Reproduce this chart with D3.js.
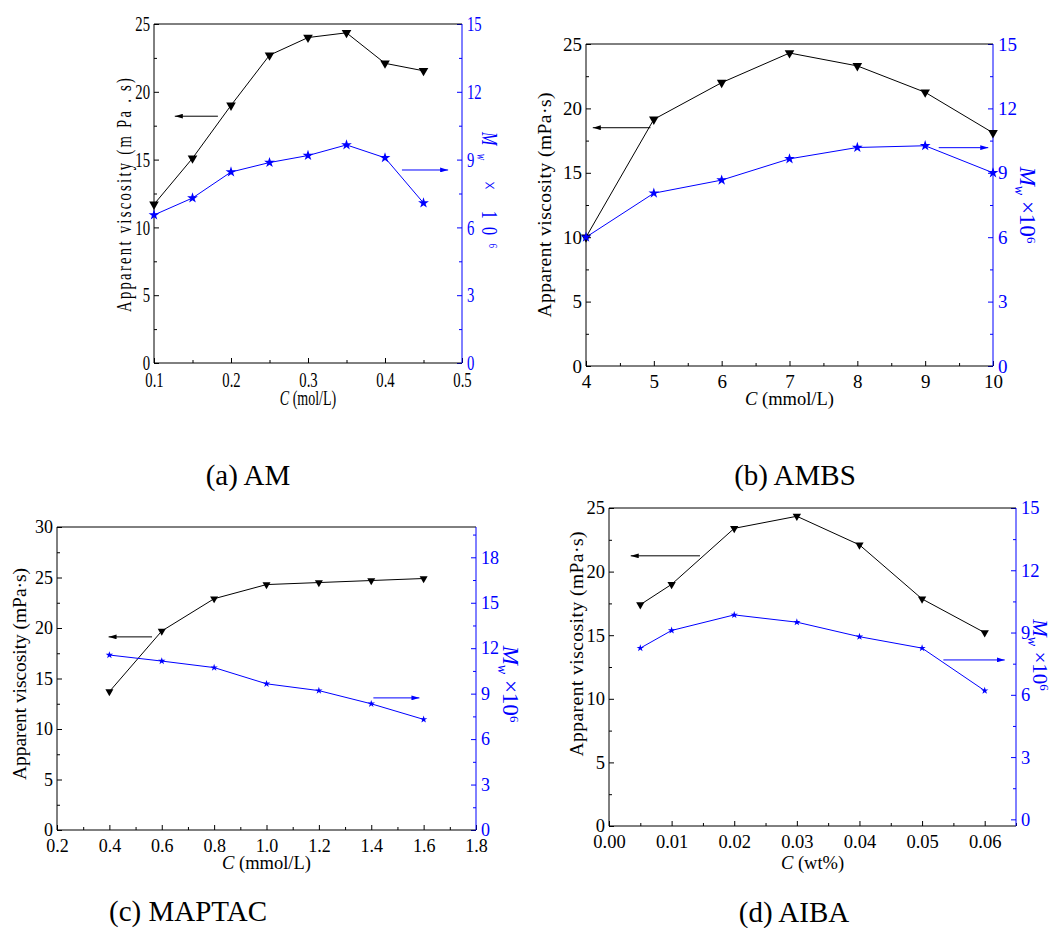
<!DOCTYPE html>
<html>
<head>
<meta charset="utf-8">
<script src="https://d3js.org/d3.v7.min.js"></script>
<style>
  body { margin: 0; background: #fff; }
</style>
</head>
<body>
<svg id="chart" width="1053" height="928" style="font-family:'Liberation Serif'"></svg>
<script>
// ---- data ----
const amC = [0.10, 0.15, 0.20, 0.25, 0.30, 0.35, 0.40, 0.45];
const amViscosity = [11.7, 15.1, 19.0, 22.7, 24.0, 24.35, 22.1, 21.55];
const amMw = [6.55, 7.3, 8.45, 8.87, 9.18, 9.65, 9.08, 7.08];

const ambsC = [4, 5, 6, 7, 8, 9, 10];
const ambsViscosity = [10.0, 19.15, 22.0, 24.3, 23.3, 21.25, 18.1];
const ambsMw = [6.0, 8.05, 8.66, 9.65, 10.18, 10.26, 9.0];

const maptacC = [0.4, 0.6, 0.8, 1.0, 1.2, 1.4, 1.6];
const maptacViscosity = [13.7, 19.7, 22.9, 24.3, 24.5, 24.7, 24.9];
const maptacMw = [11.55, 11.15, 10.72, 9.65, 9.2, 8.33, 7.3];

const aibaC = [0.005, 0.01, 0.02, 0.03, 0.04, 0.05, 0.06];
const aibaViscosity = [17.4, 19.0, 23.4, 24.35, 22.1, 17.85, 15.2];
const aibaMw = [8.25, 9.1, 9.85, 9.5, 8.8, 8.25, 6.2];

// tick labels
const amXTicks = [0.1, 0.2, 0.3, 0.4, 0.5];
const ambsXTicks = [4, 5, 6, 7, 8, 9, 10];
const maptacXTicks = [0.2, 0.4, 0.6, 0.8, 1.0, 1.2, 1.4, 1.6, 1.8];
const aibaXTicks = [0, 0.01, 0.02, 0.03, 0.04, 0.05, 0.06];
const visc25Ticks = [0, 5, 10, 15, 20, 25];
const visc30Ticks = [0, 5, 10, 15, 20, 25, 30];
const mw15Ticks = [0, 3, 6, 9, 12, 15];
const mw18Ticks = [0, 3, 6, 9, 12, 15, 18];

const captions = ["(a) AM", "(b) AMBS", "(c) MAPTAC", "(d) AIBA"];
const xUnits = ["(mol/L)", "(mmol/L)", "(mmol/L)", "(wt%)"];

// ---- layout ----
const panels = [
  { c: amC, v: amViscosity, m: amMw, cap: captions[0], unit: xUnits[0],
    box: [154, 24, 462, 363], xDom: [0.1, 0.5], xTicks: amXTicks, xStep: 0.1, xFmt: ".1f",
    vDom: [0, 25], vTicks: visc25Ticks, mDom: [0, 15], mTicks: mw15Ticks,
    font: 21, sx: 0.7, yLab: "Apparent viscosity (m Pa . s)", yLabLen: 234,
    yLabX: 131, yLabY: 195, mLabX: 482, mLabY: 190, mLabLen: 116, mFont: 23,
    xLabY: 405, capX: 248, capY: 485,
    tri: 40, star: 36, bArrow: [0.183, 0.127, 18.2], uArrow: [0.422, 0.482, 8.54] },
  { c: ambsC, v: ambsViscosity, m: ambsMw, cap: captions[1], unit: xUnits[1],
    box: [586, 44, 993, 366], xDom: [4, 10], xTicks: ambsXTicks, xStep: 1, xFmt: "d",
    vDom: [0, 25], vTicks: visc25Ticks, mDom: [0, 15], mTicks: mw15Ticks,
    font: 19, sx: 1, yLab: "Apparent viscosity (mPa\u00b7s)", yLabLen: 225,
    yLabX: 551, yLabY: 205, mLabX: 1020, mLabY: 205, mLabLen: 0, mFont: 23,
    xLabY: 405, capX: 795, capY: 485,
    tri: 40, star: 36, bArrow: [4.95, 4.1, 18.5], uArrow: [9.2, 9.93, 10.17] },
  { c: maptacC, v: maptacViscosity, m: maptacMw, cap: captions[2], unit: xUnits[2],
    box: [57, 527, 476, 830], xDom: [0.2, 1.8], xTicks: maptacXTicks, xStep: 0.2, xFmt: ".1f",
    vDom: [0, 30], vTicks: visc30Ticks, mDom: [0, 20], mTicks: mw18Ticks,
    font: 18, sx: 1, yLab: "Apparent viscosity (mPa\u00b7s)", yLabLen: 212,
    yLabX: 26, yLabY: 674, mLabX: 503, mLabY: 684, mLabLen: 0, mFont: 23,
    xLabY: 869, capX: 188, capY: 921,
    tri: 28, star: 17, bArrow: [0.563, 0.397, 19.12], uArrow: [1.408, 1.584, 8.72] },
  { c: aibaC, v: aibaViscosity, m: aibaMw, cap: captions[3], unit: xUnits[3],
    box: [609, 508, 1016, 826], xDom: [0, 0.065], xTicks: aibaXTicks, xStep: 0.01, xFmt: ".2f",
    vDom: [0, 25], vTicks: visc25Ticks, mDom: [-0.32, 15], mTicks: mw15Ticks,
    font: 18.5, sx: 1, yLab: "Apparent viscosity (mPa\u00b7s)", yLabLen: 225,
    yLabX: 583, yLabY: 644, mLabX: 1033, mLabY: 655, mLabLen: 0, mFont: 21,
    xLabY: 869, capX: 794, capY: 922,
    tri: 30, star: 17, bArrow: [0.01453, 0.00347, 21.24], uArrow: [0.0534, 0.0632, 7.68] }
];

const BLUE = "#0000ff";
const FONT = "'Liberation Serif'";
const svg = d3.select("#chart");

const defs = svg.append("defs");
[["headK", "#000"], ["headB", BLUE]].forEach(([id, col]) => {
  defs.append("marker").attr("id", id)
      .attr("viewBox", "0 0 10 6").attr("refX", 10).attr("refY", 3)
      .attr("markerWidth", 8).attr("markerHeight", 5)
      .attr("markerUnits", "userSpaceOnUse").attr("orient", "auto")
    .append("path").attr("d", "M0,0L10,3L0,6Z").attr("fill", col);
});

function styleTicks(sel, p, col) {
  sel.select(".domain").remove();
  sel.attr("font-family", null);
  sel.selectAll("line").attr("stroke", col);
  sel.selectAll("text")
      .attr("font-size", p.font).attr("fill", col)
      .each(function () {
        const t = d3.select(this);
        const xx = +t.attr("x") || 0;
        t.attr("x", xx / p.sx).attr("transform", `scale(${p.sx},1)`);
      });
}

function drawPanel(p) {
  const [x0, y0, x1, y1] = p.box;
  const x = d3.scaleLinear().domain(p.xDom).range([x0, x1]);
  const yL = d3.scaleLinear().domain(p.vDom).range([y1, y0]);
  const yR = d3.scaleLinear().domain(p.mDom).range([y1, y0]);
  const g = svg.append("g");

  const xMinor = p.xTicks.map(t => t + p.xStep / 2)
      .filter(t => t <= p.xDom[1] + 1e-9);
  const vMinor = p.vTicks.map(t => t + 2.5).filter(t => t < p.vDom[1]);
  const mMinor = p.mTicks.map(t => t + 1.5).filter(t => t < p.mDom[1]);

  // bottom axis
  g.append("g").attr("transform", `translate(0,${y1})`)
      .call(d3.axisBottom(x).tickValues(xMinor).tickSize(-3).tickFormat(""))
      .call(s => styleTicks(s, p, "#000"));
  g.append("g").attr("transform", `translate(0,${y1})`)
      .call(d3.axisBottom(x).tickValues(p.xTicks).tickSize(-5).tickPadding(9)
              .tickFormat(d3.format(p.xFmt)))
      .call(s => styleTicks(s, p, "#000"));

  // left axis
  g.append("g").attr("transform", `translate(${x0},0)`)
      .call(d3.axisLeft(yL).tickValues(vMinor).tickSize(-3).tickFormat(""))
      .call(s => styleTicks(s, p, "#000"));
  g.append("g").attr("transform", `translate(${x0},0)`)
      .call(d3.axisLeft(yL).tickValues(p.vTicks).tickSize(-5).tickPadding(4))
      .call(s => styleTicks(s, p, "#000"));

  // right axis
  g.append("g").attr("transform", `translate(${x1},0)`)
      .call(d3.axisRight(yR).tickValues(mMinor).tickSize(-3).tickFormat(""))
      .call(s => styleTicks(s, p, BLUE));
  g.append("g").attr("transform", `translate(${x1},0)`)
      .call(d3.axisRight(yR).tickValues(p.mTicks).tickSize(-5).tickPadding(5))
      .call(s => styleTicks(s, p, BLUE));

  // frame lines
  g.append("path").attr("d", `M${x0},${y0}H${x1}`).attr("stroke", "#000").attr("fill", "none");
  g.append("path").attr("d", `M${x0},${y0}V${y1}H${x1}`).attr("stroke", "#000").attr("fill", "none");
  g.append("path").attr("d", `M${x1},${y0}V${y1}`).attr("stroke", BLUE).attr("fill", "none");

  // series
  const lineV = d3.line().x((d, i) => x(p.c[i])).y(d => yL(d));
  const lineM = d3.line().x((d, i) => x(p.c[i])).y(d => yR(d));
  g.append("path").datum(p.v).attr("d", lineV).attr("fill", "none").attr("stroke", "#000").attr("stroke-width", 1);
  g.append("path").datum(p.m).attr("d", lineM).attr("fill", "none").attr("stroke", BLUE).attr("stroke-width", 1);

  g.selectAll(".tri").data(p.v).join("path")
      .attr("d", d3.symbol(d3.symbolTriangle, p.tri))
      .attr("transform", (d, i) => `translate(${x(p.c[i])},${yL(d)}) rotate(180)`)
      .attr("fill", "#000");
  g.selectAll(".star").data(p.m).join("path")
      .attr("d", d3.symbol(d3.symbolStar, p.star))
      .attr("transform", (d, i) => `translate(${x(p.c[i])},${yR(d)})`)
      .attr("fill", BLUE);

  // arrows
  g.append("line")
      .attr("x1", x(p.bArrow[0])).attr("x2", x(p.bArrow[1]))
      .attr("y1", yL(p.bArrow[2])).attr("y2", yL(p.bArrow[2]))
      .attr("stroke", "#000").attr("marker-end", "url(#headK)");
  g.append("line")
      .attr("x1", x(p.uArrow[0])).attr("x2", x(p.uArrow[1]))
      .attr("y1", yR(p.uArrow[2])).attr("y2", yR(p.uArrow[2]))
      .attr("stroke", BLUE).attr("marker-end", "url(#headB)");

  // axis titles
  g.append("text")
      .attr("transform", `translate(${p.yLabX},${p.yLabY}) rotate(-90) scale(${p.sx},1)`)
      .attr("text-anchor", "middle").attr("font-size", p.sx < 1 ? 21 : 19.5)
      .attr("textLength", p.yLabLen / p.sx).attr("lengthAdjust", "spacing")
      .text(p.yLab);

  const mt = g.append("text")
      .attr("transform", `translate(${p.mLabX},${p.mLabY}) rotate(90) scale(${p.sx},1)`)
      .attr("text-anchor", "middle").attr("font-size", p.mFont).attr("fill", BLUE);
  if (p.mLabLen) mt.attr("textLength", p.mLabLen / p.sx).attr("lengthAdjust", "spacing");
  mt.append("tspan").attr("font-style", "italic").text("M");
  mt.append("tspan").attr("font-style", "italic").attr("font-size", 14).attr("dy", 5).text("w");
  mt.append("tspan").attr("dy", -5).text(p.sx < 1 ? " \u00d7 10" : " \u00d710");
  mt.append("tspan").attr("font-size", 13).attr("dy", -7).text("6");

  const xt = g.append("text")
      .attr("transform", `translate(${(x0 + x1) / 2},${p.xLabY}) scale(${p.sx},1)`)
      .attr("text-anchor", "middle").attr("font-size", p.sx < 1 ? 20 : 18.5);
  xt.append("tspan").attr("font-style", "italic").text("C");
  xt.append("tspan").text(" " + p.unit);

  svg.append("text").attr("x", p.capX).attr("y", p.capY)
      .attr("text-anchor", "middle").attr("font-size", 29).text(p.cap);
}

panels.forEach(drawPanel);
svg.selectAll("text").style("font-family", FONT);
</script>
</body>
</html>
